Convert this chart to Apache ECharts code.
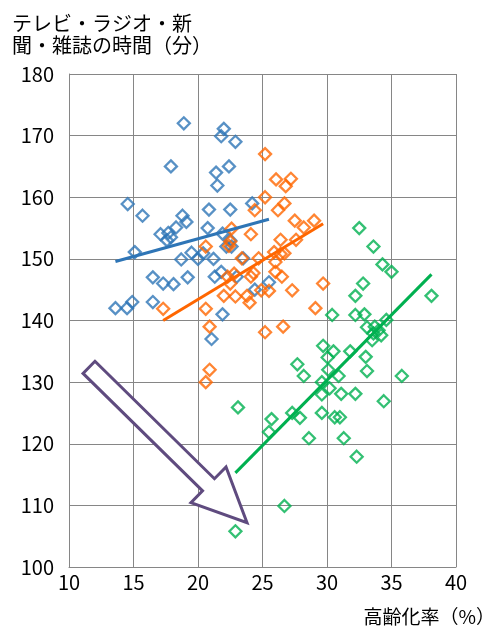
<!DOCTYPE html>
<html>
<head>
<meta charset="utf-8">
<script src="https://cdn.jsdelivr.net/npm/echarts@6/dist/echarts.min.js"></script>
<style>
  html, body { margin: 0; padding: 0; background: #fff; }
  #chart { width: 498px; height: 631px; }
</style>
</head>
<body>
<div id="chart"></div>
<script>
// 高齢化率 (x) と テレビ・ラジオ・新聞・雑誌の時間 (y)
const blueData = [
  [18.9,172.0],[22.0,171.1],[21.8,169.9],[22.9,169.0],[17.9,165.0],[22.4,165.0],
  [21.4,164.0],[21.5,161.9],[14.55,158.9],[24.2,159.0],[15.7,157.0],[20.85,158.0],
  [22.5,158.0],[18.8,157.0],[19.1,156.0],[17.1,154.0],[17.7,154.2],[17.9,153.5],
  [18.3,155.1],[17.6,153.0],[20.75,155.0],[21.9,154.1],[22.5,153.0],[22.2,152.0],
  [22.6,152.0],[15.1,151.1],[19.5,151.0],[18.7,149.9],[20.0,150.0],[21.2,150.0],
  [20.4,150.9],[23.5,150.1],[16.5,147.0],[17.3,146.0],[18.1,145.9],[19.2,147.0],
  [21.8,147.9],[21.3,147.1],[23.0,147.1],[13.6,142.0],[14.5,142.0],[14.9,143.0],
  [16.5,143.0],[21.9,141.0],[21.05,137.0],[24.4,145.0],[25.5,146.2]
];
const orangeData = [
  [25.2,167.0],[26.05,162.9],[27.2,163.0],[26.8,161.8],[25.2,160.0],[24.4,157.9],
  [26.2,157.9],[26.7,159.0],[27.5,156.2],[28.2,155.1],[29.0,156.2],[22.6,154.9],
  [24.1,154.0],[26.4,153.1],[27.6,153.1],[22.5,152.8],[20.6,152.0],[25.9,151.1],
  [26.4,150.8],[23.4,150.1],[24.7,150.1],[24.1,147.1],[24.3,147.7],[26.0,147.9],
  [26.5,147.1],[22.3,147.1],[22.5,146.0],[24.9,144.9],[25.5,144.8],[27.3,144.9],
  [29.7,146.0],[22.0,144.0],[22.9,143.9],[23.8,144.0],[24.0,142.9],[20.6,141.9],
  [29.1,142.0],[20.9,139.0],[25.2,138.1],[26.6,139.0],[17.3,141.9],[20.9,132.0],
  [20.6,130.0],[22.8,147.6],[26.7,150.9],[26.0,149.5],[22.4,152.1]
];
const greenData = [
  [32.5,155.0],[33.6,152.0],[34.3,149.1],[35.0,147.9],[38.1,144.0],[32.8,146.0],
  [32.2,144.0],[30.4,140.9],[32.2,140.9],[32.9,141.0],[33.1,138.9],[33.7,139.0],
  [34.0,138.4],[33.6,137.9],[34.2,137.6],[34.6,140.1],[33.5,136.8],[29.7,135.9],
  [30.5,135.0],[30.05,134.0],[31.8,135.0],[33.0,134.1],[33.1,131.8],[27.7,132.9],
  [28.2,131.0],[30.1,132.0],[30.9,131.0],[35.8,131.0],[29.6,130.0],[30.2,129.0],
  [29.6,128.0],[31.1,128.1],[32.2,128.1],[34.4,126.9],[27.3,125.0],[27.9,124.2],
  [29.6,125.0],[30.6,124.3],[31.0,124.3],[23.1,125.9],[25.7,124.0],[25.5,121.9],
  [28.6,120.9],[31.3,120.9],[32.3,117.9],[26.7,109.9],[22.9,105.8]
];

const colors = ['#2e75b6', '#ff6600', '#00b050'];
const yTitle = ['テレビ・ラジオ・新', '聞・雑誌の時間（分）'];
const xTitle = '高齢化率（%）';

// 矢印（データ座標）
const arrowFrom = [11.55, 132.4];
const arrowTo = [23.8, 107.2];

const labelFont = "'Liberation Sans Narrow', 'Noto Sans CJK JP', sans-serif";
const cjkFont = "'Noto Sans CJK JP', sans-serif";

// 最小二乗法で近似直線
function trend(pts) {
  let n = pts.length, sx = 0, sy = 0, sxx = 0, sxy = 0;
  let minX = Infinity, maxX = -Infinity;
  pts.forEach(function (p) {
    sx += p[0]; sy += p[1]; sxx += p[0] * p[0]; sxy += p[0] * p[1];
    if (p[0] < minX) minX = p[0];
    if (p[0] > maxX) maxX = p[0];
  });
  const b = (n * sxy - sx * sy) / (n * sxx - sx * sx);
  const a = (sy - b * sx) / n;
  return [[minX, a + b * minX], [maxX, a + b * maxX]];
}

const groups = [blueData, orangeData, greenData];
const series = [];
groups.forEach(function (d, i) {
  series.push({
    type: 'scatter',
    data: d,
    symbol: 'diamond',
    symbolSize: [12, 12],
    itemStyle: { color: 'rgba(255,255,255,0)', borderColor: colors[i], borderWidth: 2.3 },
    emphasis: { disabled: true },
    z: 2
  });
});
groups.forEach(function (d, i) {
  series.push({
    type: 'line',
    data: trend(d),
    symbol: 'none',
    lineStyle: { color: colors[i], width: 3 },
    emphasis: { disabled: true },
    z: 3
  });
});

const chart = echarts.init(document.getElementById('chart'), null, { renderer: 'canvas' });

const axisCommon = {
  axisLine: { show: true, lineStyle: { color: '#868686', width: 1 } },
  axisTick: { show: false },
  splitLine: { show: true, lineStyle: { color: '#868686', width: 1 } },
  axisLabel: { color: '#000', fontFamily: labelFont, fontSize: 20 }
};

chart.setOption({
  animation: false,
  backgroundColor: '#fff',
  grid: { left: 69, right: 42, top: 74, bottom: 64, containLabel: false, outerBoundsMode: 'none' },
  xAxis: Object.assign({}, axisCommon, {
    type: 'value', min: 10, max: 40, interval: 5,
    axisLabel: Object.assign({}, axisCommon.axisLabel, { margin: 5 })
  }),
  yAxis: Object.assign({}, axisCommon, {
    type: 'value', min: 100, max: 180, interval: 10,
    axisLabel: Object.assign({}, axisCommon.axisLabel, { margin: 15 })
  }),
  series: series
});

// 矢印と軸タイトル
const p0 = chart.convertToPixel({ gridIndex: 0 }, arrowFrom);
const p1 = chart.convertToPixel({ gridIndex: 0 }, arrowTo);
const dx = p1[0] - p0[0], dy = p1[1] - p0[1];
const len = Math.sqrt(dx * dx + dy * dy);
const ux = dx / len, uy = dy / len;
const nx = uy, ny = -ux;
const shaftW = 8.5, headW = 25, headL = 54;
function pt(along, side) {
  return [p0[0] + ux * along + nx * side, p0[1] + uy * along + ny * side];
}
const arrowPts = [
  pt(0, shaftW), pt(len - headL, shaftW), pt(len - headL, headW), pt(len, 0),
  pt(len - headL, -headW), pt(len - headL, -shaftW), pt(0, -shaftW)
];

chart.setOption({
  graphic: [
    {
      type: 'polygon',
      shape: { points: arrowPts },
      style: { fill: '#fff', stroke: '#5f4b7f', lineWidth: 3, lineJoin: 'miter' },
      z: 10
    },
    {
      type: 'text', left: 12, top: 12,
      style: { text: yTitle.join('\n'), fill: '#000', font: '20px ' + cjkFont, lineHeight: 22 }
    },
    {
      type: 'text', right: 3, top: 607,
      style: { text: xTitle, fill: '#000', font: '19px ' + cjkFont }
    }
  ]
});
</script>
</body>
</html>
